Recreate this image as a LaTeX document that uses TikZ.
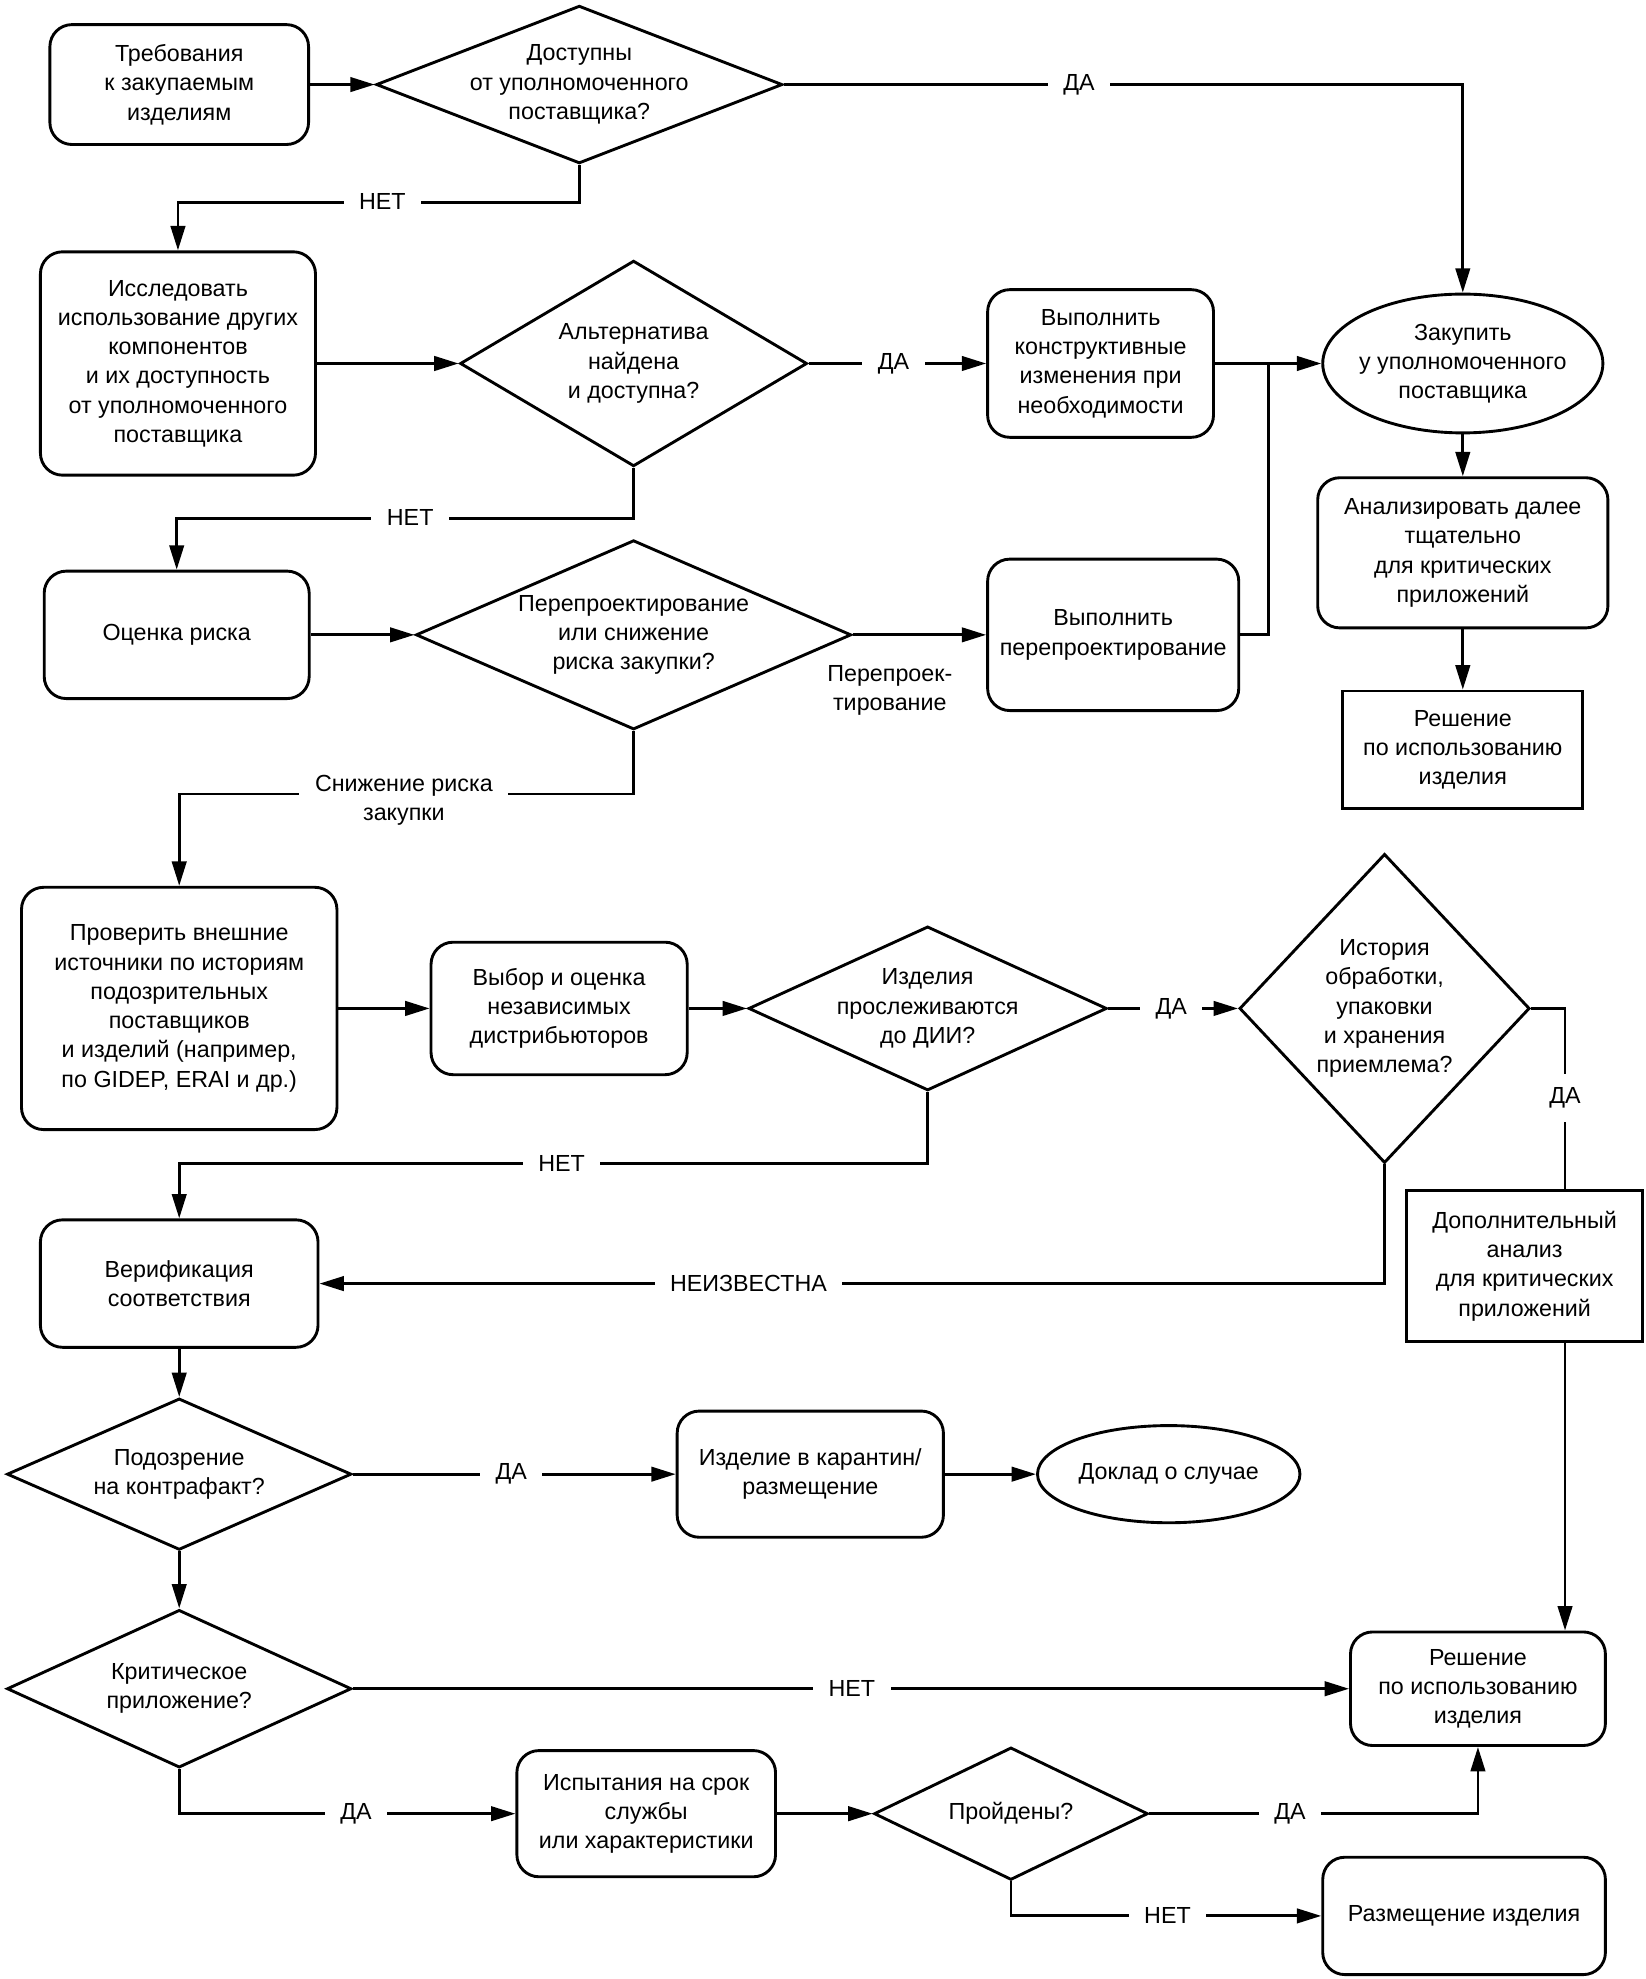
\documentclass[tikz,border=0pt]{standalone}
\usepackage{fontspec}
\setmainfont{Liberation Sans}
\usetikzlibrary{arrows.meta,calc,shapes.geometric}
\tikzset{
  procBox/.style={draw, line width=1.3pt, rounded corners=0.35cm, align=center, inner sep=2pt},
  plainBox/.style={draw, line width=1.3pt, align=center, inner sep=2pt},
  decDiamond/.style={draw, diamond, line width=1.3pt, align=center, inner sep=-4pt},
  termOval/.style={draw, ellipse, line width=1.3pt, align=center, inner sep=-3pt},
  flowLine/.style={line width=1.3pt},
  flowArrow/.style={flowLine, -{Triangle[length=11pt, width=6.5pt]}},
  flowLabel/.style={fill=white, inner xsep=7pt, inner ysep=1pt, align=center}
}
\begin{document}
\begin{tikzpicture}[x=0.02cm, y=-0.02cm, font=\fontsize{10.5}{13.2}\selectfont]
  \useasboundingbox (0,0) rectangle (1304,1568);

  % top row
  \node[procBox, minimum width=4.1cm, minimum height=1.9cm] (req) at (142,67) {Требования\\к закупаемым\\изделиям};
  \node[decDiamond, aspect=2.58, minimum width=6.44cm, minimum height=2.5cm] (qAvail) at (459,67) {Доступны\\от уполномоченного\\поставщика?};

  \node[procBox, minimum width=4.36cm, minimum height=3.54cm] (explore) at (141,288) {Исследовать\\использование других\\компонентов\\и их доступность\\от уполномоченного\\поставщика};
  \node[decDiamond, aspect=1.69, minimum width=5.5cm, minimum height=3.26cm] (qAlt) at (502,288) {Альтернатива\\найдена\\и доступна?};
  \node[procBox, minimum width=3.58cm, minimum height=2.34cm] (design) at (872,288) {Выполнить\\конструктивные\\изменения при\\необходимости};
  \node[termOval, minimum width=4.44cm, minimum height=2.2cm] (buyAuth) at (1159,288) {Закупить\\у уполномоченного\\поставщика};

  \node[procBox, minimum width=4.6cm, minimum height=2.38cm] (analyze) at (1159,438) {Анализировать далее\\тщательно\\для критических\\приложений};
  \node[plainBox, minimum width=3.8cm, minimum height=1.86cm] (decisionTop) at (1159,594) {Решение\\по использованию\\изделия};

  \node[procBox, minimum width=4.2cm, minimum height=2.02cm] (riskEval) at (140,503) {Оценка риска};
  \node[decDiamond, aspect=2.3, minimum width=6.9cm, minimum height=3.0cm] (qRedesign) at (502,503) {Перепроектирование\\или снижение\\риска закупки?};
  \node[procBox, minimum width=3.98cm, minimum height=2.4cm] (redesign) at (882,503) {Выполнить\\перепроектирование};

  % middle row
  \node[procBox, minimum width=5.0cm, minimum height=3.84cm] (checkSrc) at (142,799) {Проверить внешние\\источники по историям\\подозрительных\\поставщиков\\и изделий (например,\\по GIDEP, ERAI и др.)};
  \node[procBox, minimum width=4.06cm, minimum height=2.1cm] (selectDist) at (443,799) {Выбор и оценка\\независимых\\дистрибьюторов};
  \node[decDiamond, aspect=2.18, minimum width=5.68cm, minimum height=2.6cm] (qTrace) at (735,799) {Изделия\\прослеживаются\\до ДИИ?};
  \node[decDiamond, aspect=0.94, minimum width=4.6cm, minimum height=4.9cm] (qHist) at (1097,799) {История\\обработки,\\упаковки\\и хранения\\приемлема?};
  \node[plainBox, minimum width=3.74cm, minimum height=2.4cm] (addAnalysis) at (1208,1003) {Дополнительный\\анализ\\для критических\\приложений};
  \coordinate (histRail) at (1240,0);

  % bottom part
  \node[procBox, minimum width=4.4cm, minimum height=2.02cm] (verify) at (142,1017) {Верификация\\соответствия};
  \node[decDiamond, aspect=2.28, minimum width=5.46cm, minimum height=2.4cm] (qSuspect) at (142,1168) {Подозрение\\на контрафакт?};
  \node[procBox, minimum width=4.22cm, minimum height=2.0cm] (quarantine) at (642,1168) {Изделие в карантин/\\размещение};
  \node[termOval, minimum width=4.16cm, minimum height=1.54cm] (report) at (926,1168) {Доклад о случае};

  \node[decDiamond, aspect=2.18, minimum width=5.46cm, minimum height=2.5cm] (qCritical) at (142,1338) {Критическое\\приложение?};
  \node[procBox, minimum width=4.04cm, minimum height=1.8cm] (decisionBot) at (1171,1338) {Решение\\по использованию\\изделия};
  \node[procBox, minimum width=4.1cm, minimum height=2.0cm] (lifeTest) at (512,1437) {Испытания на срок\\службы\\или характеристики};
  \node[decDiamond, aspect=2.07, minimum width=4.34cm, minimum height=2.1cm] (qPassed) at (801,1437) {Пройдены?};
  \node[procBox, minimum width=4.48cm, minimum height=1.86cm] (dispose) at (1160,1518) {Размещение изделия};

  % connectors
  \draw[flowArrow] (req.east) -- (qAvail.west);
  \draw[flowArrow] (qAvail.east) -| (buyAuth.north);
  \draw[flowArrow] (qAvail.south) -- ++(0,30) -| (explore.north);
  \draw[flowArrow] (explore.east) -- (qAlt.west);
  \draw[flowArrow] (qAlt.east) -- (design.west);
  \draw[flowArrow] (design.east) -- (buyAuth.west);
  \draw[flowLine] (redesign.east) -| ($(design.east)!0.5!(buyAuth.west)$);
  \draw[flowArrow] (qAlt.south) -- ++(0,40) -| (riskEval.north);
  \draw[flowArrow] (riskEval.east) -- (qRedesign.west);
  \draw[flowArrow] (qRedesign.east) -- (redesign.west);
  \draw[flowArrow] (qRedesign.south) -- ++(0,50) -| (checkSrc.north);
  \draw[flowArrow] (buyAuth.south) -- (analyze.north);
  \draw[flowArrow] (analyze.south) -- (decisionTop.north);

  \draw[flowArrow] (checkSrc.east) -- (selectDist.west);
  \draw[flowArrow] (selectDist.east) -- (qTrace.west);
  \draw[flowArrow] (qTrace.east) -- (qHist.west);
  \draw[flowArrow] (qTrace.south) -- ++(0,57) -| (verify.north);
  \draw[flowLine] (qHist.east) -| (addAnalysis.north -| histRail);
  \draw[flowArrow] (addAnalysis.south -| histRail) -- (decisionBot.north -| histRail);
  \draw[flowArrow] (qHist.south) |- (verify.east);

  \draw[flowArrow] (verify.south) -- (qSuspect.north);
  \draw[flowArrow] (qSuspect.east) -- (quarantine.west);
  \draw[flowArrow] (quarantine.east) -- (report.west);
  \draw[flowArrow] (qSuspect.south) -- (qCritical.north);
  \draw[flowArrow] (qCritical.east) -- (decisionBot.west);
  \draw[flowArrow] (qCritical.south) |- (lifeTest.west);
  \draw[flowArrow] (lifeTest.east) -- (qPassed.west);
  \draw[flowArrow] (qPassed.east) -| (decisionBot.south);
  \draw[flowArrow] (qPassed.south) |- (dispose.west);

  % labels
  \node[flowLabel] (lblAvailYes) at (855,67) {ДА};
  \node[flowLabel] (lblAvailNo) at (303,160) {НЕТ};
  \node[flowLabel] (lblAltYes) at (708,288) {ДА};
  \node[flowLabel] (lblAltNo) at (325,410) {НЕТ};
  \node[align=center] (lblRedesign) at (705,547) {Перепроек-\\тирование};
  \node[flowLabel] (lblRisk) at (320,634) {Снижение риска\\закупки};
  \node[flowLabel] (lblTraceYes) at (928,799) {ДА};
  \node[flowLabel] (lblTraceNo) at (445,922) {НЕТ};
  \node[flowLabel, inner xsep=2pt, inner ysep=6pt] (lblHistYes) at (1240,870) {ДА};
  \node[flowLabel] (lblHistUnk) at (593,1017) {НЕИЗВЕСТНА};
  \node[flowLabel] (lblSuspectYes) at (405,1168) {ДА};
  \node[flowLabel] (lblCritNo) at (675,1338) {НЕТ};
  \node[flowLabel] (lblCritYes) at (282,1437) {ДА};
  \node[flowLabel] (lblPassYes) at (1022,1437) {ДА};
  \node[flowLabel] (lblPassNo) at (925,1518) {НЕТ};
\end{tikzpicture}
\end{document}
